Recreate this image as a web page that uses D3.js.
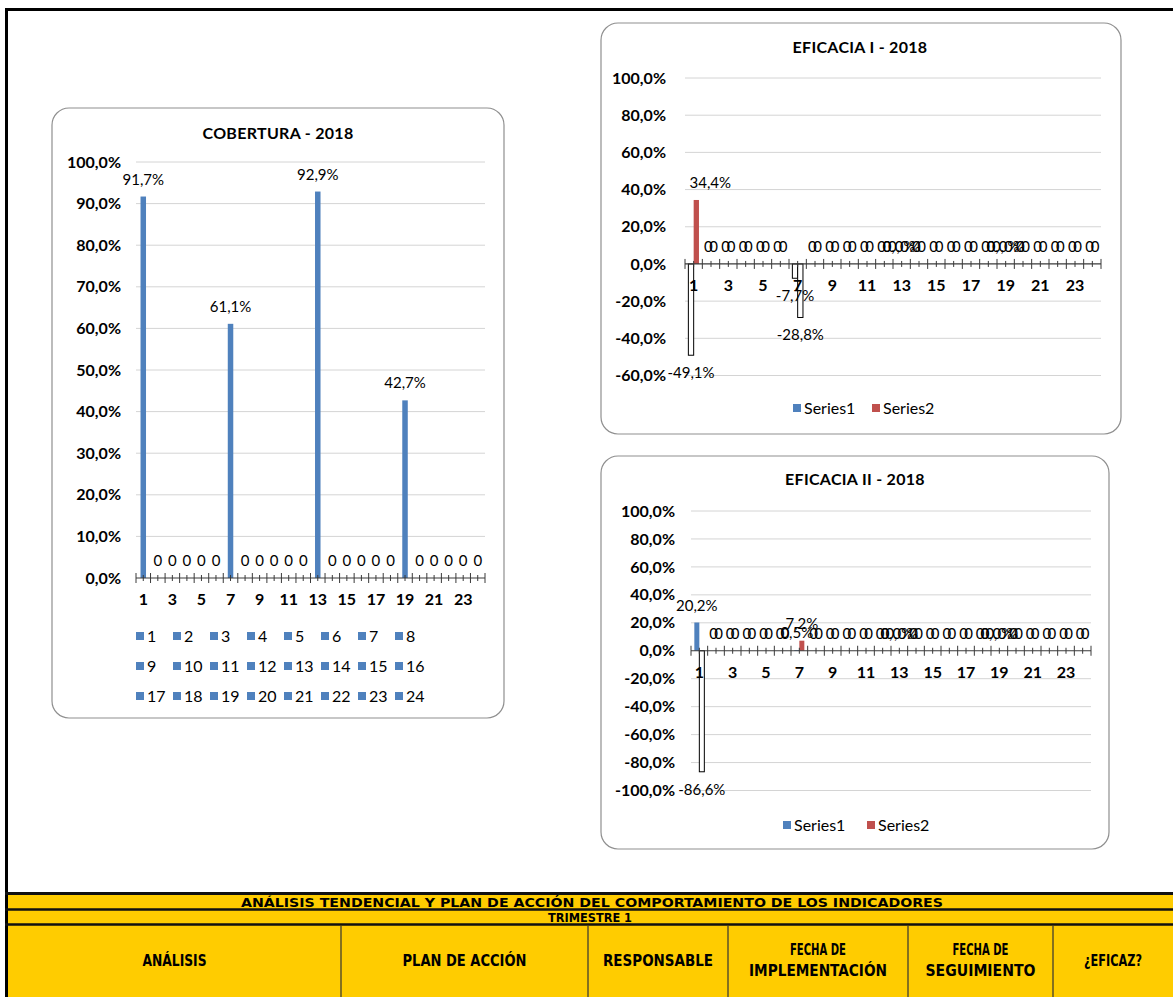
<!DOCTYPE html>
<html>
<head>
<meta charset="utf-8">
<script src="https://cdn.jsdelivr.net/npm/d3@7/dist/d3.min.js"></script>
<style>
  body { margin: 0; background: #fff; }
  svg { display: block; }
  text { font-family: Lato, "DejaVu Sans", sans-serif; fill: #000; }
</style>
</head>
<body>
<script>
// ---- data ----
var categories = [1, 2, 3, 4, 5, 6, 7, 8, 9, 10, 11, 12, 13, 14, 15, 16, 17, 18, 19, 20, 21, 22, 23, 24];
var xTickLabels = [1, 3, 5, 7, 9, 11, 13, 15, 17, 19, 21, 23];

// null = empty cell (Excel prints "0"), 0 = real 0,0%
var cobertura = [91.7, null, null, null, null, null, 61.1, null, null, null, null, null,
                 92.9, null, null, null, null, null, 42.7, null, null, null, null, null];

var eficacia1Series1 = [-49.1, null, null, null, null, null, -7.7, null, null, null, null, null,
                        0, null, null, null, null, null, 0, null, null, null, null, null];
var eficacia1Series2 = [34.4, null, null, null, null, null, -28.8, null, null, null, null, null,
                        0, null, null, null, null, null, 0, null, null, null, null, null];

var eficacia2Series1 = [20.2, null, null, null, null, null, 0.5, null, null, null, null, null,
                        0, null, null, null, null, null, 0, null, null, null, null, null];
var eficacia2Series2 = [-86.6, null, null, null, null, null, 7.2, null, null, null, null, null,
                        0, null, null, null, null, null, 0, null, null, null, null, null];

var coberturaLegend = ["1", "2", "3", "4", "5", "6", "7", "8", "9", "10", "11", "12",
                       "13", "14", "15", "16", "17", "18", "19", "20", "21", "22", "23", "24"];
var seriesNames = ["Series1", "Series2"];

var tableTitle = "ANÁLISIS TENDENCIAL Y PLAN DE ACCIÓN DEL COMPORTAMIENTO DE LOS INDICADORES";
var tableQuarter = "TRIMESTRE 1";
var tableColumns = [["ANÁLISIS"], ["PLAN DE ACCIÓN"], ["RESPONSABLE"],
                    ["FECHA DE", "IMPLEMENTACIÓN"], ["FECHA DE", "SEGUIMIENTO"], ["¿EFICAZ?"]];

var blue = "#4F81BD", red = "#C0504D";

var width = 1173, height = 997;

var svg = d3.select("body").append("svg")
    .attr("width", width)
    .attr("height", height);

function pct(v) { return d3.format(".1f")(v).replace(".", ",").replace("\u2212", "-") + "%"; }
function label(v) { return v == null ? "0" : pct(v); }

function drawChart(c) {
  var g = svg.append("g");

  g.append("rect")
      .attr("x", c.box[0]).attr("y", c.box[1])
      .attr("width", c.box[2]).attr("height", c.box[3])
      .attr("rx", 17)
      .attr("fill", "#fff")
      .attr("stroke", "#8f8f8f")
      .attr("stroke-width", 1.2);

  g.append("text")
      .attr("x", c.titleX).attr("y", c.titleY)
      .attr("text-anchor", "middle")
      .attr("font-weight", "bold")
      .attr("font-size", 16)
      .attr("letter-spacing", 0.3)
      .text(c.title);

  var y = d3.scaleLinear().domain(c.yDomain).range(c.yRange);
  var x = d3.scaleBand().domain(categories).range(c.xRange);
  var y0 = y(0);
  var ticks = d3.range(c.yDomain[0], c.yDomain[1] + 1, c.yStep);

  // gridlines
  g.append("g").selectAll("line")
      .data(ticks.filter(function(t) { return t != 0; }))
      .enter().append("line")
      .attr("x1", c.xRange[0]).attr("x2", c.xRange[1])
      .attr("y1", function(d) { return y(d); })
      .attr("y2", function(d) { return y(d); })
      .attr("stroke", "#d4d4d4")
      .attr("stroke-width", 1);

  // y axis labels
  var ya = g.append("g")
      .attr("transform", "translate(" + c.xRange[0] + ",0)")
      .call(d3.axisLeft(y).tickValues(ticks).tickSize(0).tickPadding(c.yPad).tickFormat(pct));
  ya.select(".domain").remove();
  ya.selectAll("text")
      .attr("font-size", 16)
      .attr("font-weight", "bold")
      .attr("fill", "#000");

  // bars
  var n = c.series.length;
  c.series.forEach(function(s, si) {
    var off = (si - (n - 1) / 2) * c.barW;
    g.append("g").selectAll("rect")
        .data(s.values.map(function(v, i) { return { cat: categories[i], v: v }; })
                       .filter(function(d) { return d.v != null && d.v != 0; }))
        .enter().append("rect")
        .attr("x", function(d) { return x(d.cat) + x.bandwidth() / 2 + off - c.barW / 2; })
        .attr("y", function(d) { return Math.min(y(d.v), y0); })
        .attr("width", c.barW)
        .attr("height", function(d) { return Math.abs(y(d.v) - y0); })
        .attr("fill", function(d) { return d.v < 0 ? "#fff" : s.color; })
        .attr("stroke", function(d) { return d.v < 0 ? "#000" : "none"; })
        .attr("stroke-width", 1);
  });

  // x axis line and tick marks
  g.append("line")
      .attr("x1", c.xRange[0]).attr("x2", c.xRange[1])
      .attr("y1", y0).attr("y2", y0)
      .attr("stroke", "#3a3a3a").attr("stroke-width", 1.2);
  var bounds = categories.map(function(d) { return x(d); }).concat([c.xRange[1]]);
  g.append("g").selectAll("line").data(bounds).enter().append("line")
      .attr("x1", function(d) { return d; }).attr("x2", function(d) { return d; })
      .attr("y1", y0 - 5).attr("y2", y0 + 5)
      .attr("stroke", "#3a3a3a").attr("stroke-width", 1);
  g.append("g").selectAll("line").data(categories).enter().append("line")
      .attr("x1", function(d) { return x(d) + x.bandwidth() / 2; })
      .attr("x2", function(d) { return x(d) + x.bandwidth() / 2; })
      .attr("y1", y0 - 3).attr("y2", y0 + 3)
      .attr("stroke", "#3a3a3a").attr("stroke-width", 1);

  var xa = g.append("g")
      .attr("transform", "translate(0," + y0 + ")")
      .call(d3.axisBottom(x).tickValues(xTickLabels).tickSize(0).tickPadding(16));
  xa.select(".domain").remove();
  xa.selectAll("text")
      .attr("font-size", 16)
      .attr("font-weight", "bold")
      .attr("fill", "#000");

  // data labels
  c.series.forEach(function(s, si) {
    var off = (si - (n - 1) / 2) * c.barW;
    g.append("g").selectAll("text")
        .data(s.values.map(function(v, i) { return { cat: categories[i], v: v, i: i }; }))
        .enter().append("text")
        .attr("x", function(d) {
          var nud = (c.nudge && c.nudge[si + "-" + d.i]) || 0;
          return x(d.cat) + x.bandwidth() / 2 + off + nud;
        })
        .attr("y", function(d) {
          return d.v != null && d.v < 0 ? y(d.v) + 23 : y(d.v || 0) - 12;
        })
        .attr("text-anchor", "middle")
        .attr("font-size", 15)
        .attr("fill", "#262626")
        .text(function(d) { return label(d.v); });
  });

  // legend
  var lg = g.append("g");
  c.legend.forEach(function(name, i) {
    var col = i % c.legendCols, row = Math.floor(i / c.legendCols);
    var lx = c.legendX + col * c.legendStep, ly = c.legendY + row * 30;
    lg.append("rect")
        .attr("x", lx).attr("y", ly - 4)
        .attr("width", 8).attr("height", 8)
        .attr("fill", c.legendColors[i]);
    lg.append("text")
        .attr("x", lx + 11).attr("y", ly + 5.5)
        .attr("font-size", 16)
        .attr("fill", "#333")
        .text(name);
  });
}

drawChart({
  box: [52, 108, 452, 610],
  title: "COBERTURA - 2018", titleX: 278, titleY: 139,
  yDomain: [0, 100], yStep: 10, yRange: [578, 162], yPad: 15,
  xRange: [136, 485],
  barW: 5.5,
  series: [{ values: cobertura, color: blue }],
  legend: coberturaLegend, legendCols: 8, legendStep: 37, legendX: 136, legendY: 636,
  legendColors: coberturaLegend.map(function() { return blue; })
});

drawChart({
  box: [601, 23, 520, 411],
  title: "EFICACIA I - 2018", titleX: 860, titleY: 53,
  yDomain: [-60, 100], yStep: 20, yRange: [375.5, 78], yPad: 19,
  xRange: [685, 1101],
  barW: 5.3,
  series: [{ values: eficacia1Series1, color: blue }, { values: eficacia1Series2, color: red }],
  nudge: { "1-0": 14 },
  legend: seriesNames, legendCols: 2, legendStep: 79, legendX: 793, legendY: 408,
  legendColors: [blue, red]
});

drawChart({
  box: [601, 456, 508, 393],
  title: "EFICACIA II - 2018", titleX: 855, titleY: 485,
  yDomain: [-100, 100], yStep: 20, yRange: [790.5, 511], yPad: 16,
  xRange: [691, 1091],
  barW: 5,
  series: [{ values: eficacia2Series1, color: blue }, { values: eficacia2Series2, color: red }],
  legend: seriesNames, legendCols: 2, legendStep: 84, legendX: 783, legendY: 825,
  legendColors: [blue, red]
});

// ---- sheet frame ----
svg.append("line").attr("x1", 5).attr("x2", width).attr("y1", 9.5).attr("y2", 9.5)
    .attr("stroke", "#000").attr("stroke-width", 3);
svg.append("line").attr("x1", 6.5).attr("x2", 6.5).attr("y1", 8).attr("y2", height)
    .attr("stroke", "#000").attr("stroke-width", 3);

// ---- table header ----
var tb = svg.append("g");
tb.append("rect").attr("x", 8).attr("y", 893).attr("width", width - 8).attr("height", height - 893)
    .attr("fill", "#FFCC00");
[[893.5, 3], [909.5, 2.5], [924.5, 2.5]].forEach(function(l) {
  tb.append("line").attr("x1", 5).attr("x2", width).attr("y1", l[0]).attr("y2", l[0])
      .attr("stroke", "#111").attr("stroke-width", l[1]);
});
var colEdges = [8, 341, 588, 728, 908, 1053, width];
colEdges.slice(1, -1).forEach(function(cx) {
  tb.append("line").attr("x1", cx).attr("x2", cx).attr("y1", 926).attr("y2", height)
      .attr("stroke", "#333").attr("stroke-width", 1.2);
});

function headText(x, y, txt, w, size) {
  tb.append("text")
      .attr("x", x).attr("y", y)
      .attr("text-anchor", "middle")
      .style("font-family", "'Liberation Sans Narrow', 'DejaVu Sans Condensed', 'Liberation Sans', sans-serif")
      .attr("font-weight", "bold")
      .attr("font-size", size)
      .attr("fill", "#333")
      .attr("textLength", w)
      .attr("lengthAdjust", "spacingAndGlyphs")
      .text(txt);
}
headText(592, 906.5, tableTitle, 702, 13);
headText(590, 922, tableQuarter, 84, 12.5);

var colWidths = [[64], [124], [110], [56, 138], [56, 110], [58]];
tableColumns.forEach(function(lines, i) {
  var cx = (colEdges[i] + colEdges[i + 1]) / 2;
  if (lines.length == 1) {
    headText(cx, 966, lines[0], colWidths[i][0], 15);
  } else {
    headText(cx, 955, lines[0], colWidths[i][0], 15);
    headText(cx, 976, lines[1], colWidths[i][1], 15);
  }
});
</script>
</body>
</html>
